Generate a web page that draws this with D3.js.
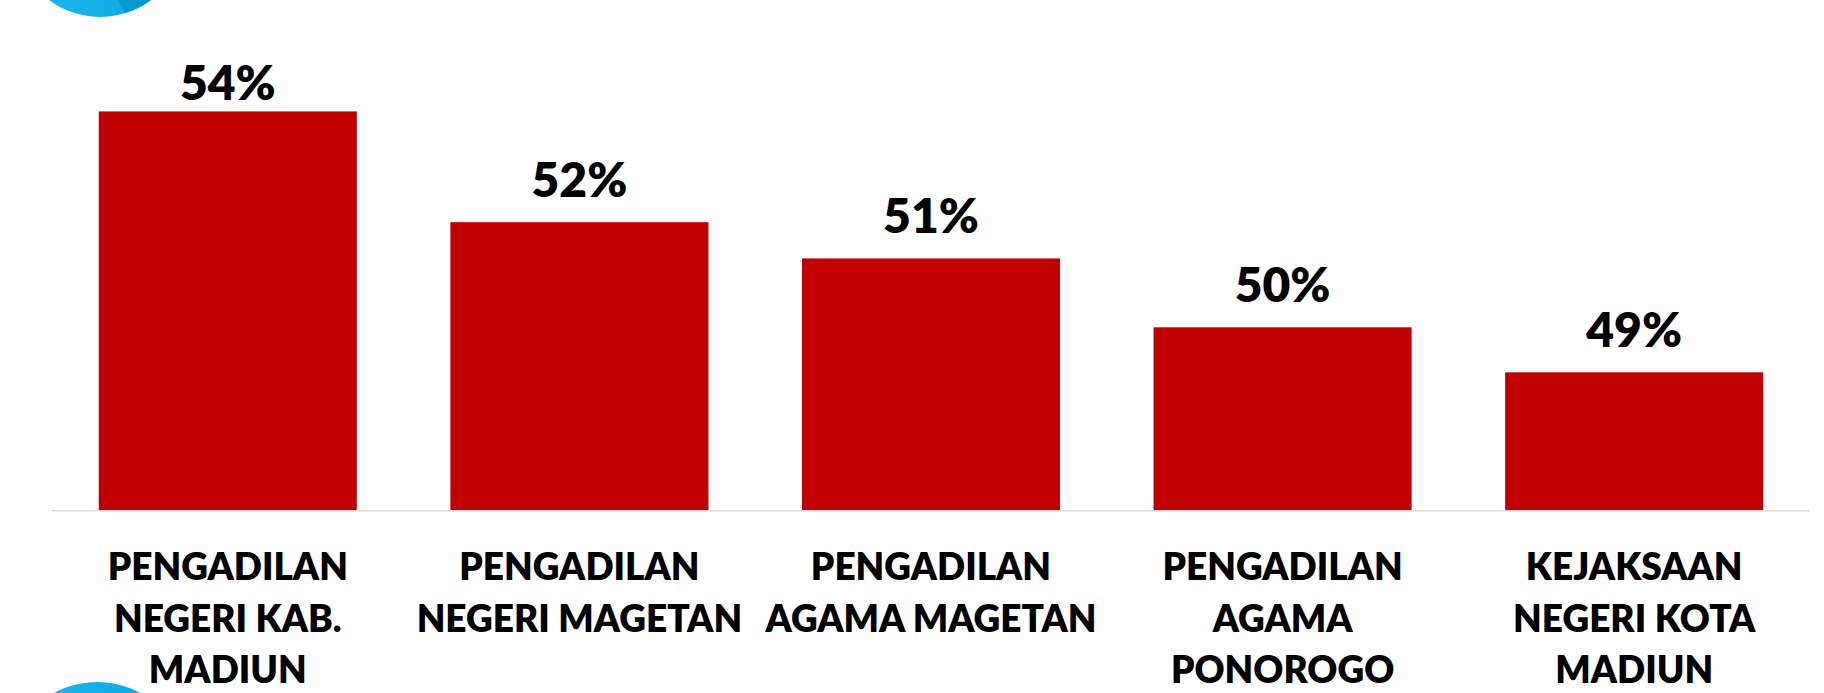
<!DOCTYPE html>
<html>
<head>
<meta charset="utf-8">
<script src="https://cdn.jsdelivr.net/npm/d3@7"></script>
<style>
  html, body { margin: 0; padding: 0; background: #fff; }
  svg { display: block; font-family: Lato, "Open Sans", sans-serif; }
</style>
</head>
<body>
<div class="container"></div>
<script>
var w = 1824;
var h = 693;

// data
var categories = [
  "PENGADILAN|NEGERI KAB.|MADIUN",
  "PENGADILAN|NEGERI MAGETAN",
  "PENGADILAN|AGAMA MAGETAN",
  "PENGADILAN|AGAMA|PONOROGO",
  "KEJAKSAAN|NEGERI KOTA|MADIUN"
];
var values = [54.2, 52.06, 51.36, 50.03, 49.16];
var yDomain = [46.5, 55];

var svg = d3.select(".container").append("svg").attr("width", w).attr("height", h);

// decorative logo circles at the page edges
var defs = svg.append("defs");
var grad = defs.append("linearGradient").attr("id", "blue").attr("x1", "0%").attr("x2", "100%");
grad.append("stop").attr("offset", "0%").attr("stop-color", "#1fb8f0");
grad.append("stop").attr("offset", "100%").attr("stop-color", "#0aa6e2");
defs.append("clipPath").attr("id", "topc").append("circle").attr("cx", 100).attr("cy", -68).attr("r", 85);

svg.append("circle").attr("cx", 100).attr("cy", -68).attr("r", 85).attr("fill", "url(#blue)");
svg.append("path").attr("clip-path", "url(#topc)")
  .attr("d", "M95,-40 L190,-40 L190,40 L140,40 Z").attr("fill", "#0899d0");
svg.append("circle").attr("cx", 97).attr("cy", 772).attr("r", 90).attr("fill", "url(#blue)");

var x = d3.scaleBand().domain(d3.range(categories.length))
  .range([52, 1810]).paddingInner(0.266).paddingOuter(0.133);
var y = d3.scaleLinear().domain(yDomain).range([510, 70]);

svg.selectAll("rect.bar").data(values).enter().append("rect")
  .attr("class", "bar")
  .attr("x", function(d, i) { return x(i); })
  .attr("y", function(d) { return y(d); })
  .attr("width", x.bandwidth())
  .attr("height", function(d) { return y(yDomain[0]) - y(d); })
  .attr("fill", "#c00000");

// baseline
svg.append("line")
  .attr("x1", 52).attr("x2", 1810)
  .attr("y1", y(yDomain[0]) + 0.75).attr("y2", y(yDomain[0]) + 0.75)
  .attr("stroke", "#d9d9d9").attr("stroke-width", 1.5);

// value labels
var fmt = d3.format(".0f");
svg.selectAll("text.val").data(values).enter().append("text")
  .attr("class", "val")
  .attr("x", function(d, i) { return x(i) + x.bandwidth() / 2; })
  .attr("y", function(d) { return Math.max(y(d) - 25, 100); })
  .attr("text-anchor", "middle")
  .attr("font-size", 48).attr("font-weight", 800).attr("fill", "#000")
  .text(function(d) { return fmt(d) + "%"; });

// category labels
var cat = svg.selectAll("text.cat").data(categories).enter().append("text")
  .attr("class", "cat")
  .attr("text-anchor", "middle")
  .attr("font-size", 37).attr("font-weight", 800).attr("fill", "#000");
cat.selectAll("tspan").data(function(d, i) {
    return d.split("|").map(function(s) { return {s: s, i: i}; });
  }).enter().append("tspan")
  .attr("x", function(d) { return x(d.i) + x.bandwidth() / 2; })
  .attr("y", function(d, j) { return 580 + j * 51.5; })
  .text(function(d) { return d.s; });
</script>
</body>
</html>
